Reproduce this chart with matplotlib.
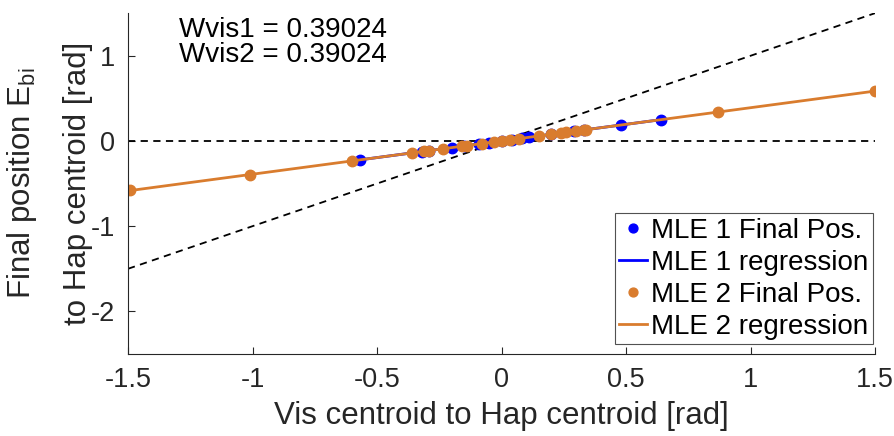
import numpy as np
import matplotlib.pyplot as plt

plt.rcParams['font.family'] = ['Liberation Sans', 'DejaVu Sans']

# slope of both regressions
wvis1 = 0.39024
wvis2 = 0.39024

# MLE 1 final positions
mle1_x = [-0.57, -0.32, -0.29, -0.20, -0.15, -0.09, -0.05, 0.00, 0.04, 0.08, 0.11, 0.20, 0.29, 0.33, 0.48, 0.64]
mle1_y = [-0.222, -0.125, -0.113, -0.078, -0.059, -0.035, -0.020, 0.000, 0.016, 0.031, 0.043, 0.078, 0.113, 0.129, 0.187, 0.250]

# MLE 2 final positions
mle2_x = [-1.49, -1.01, -0.60, -0.36, -0.31, -0.29, -0.235, -0.16, -0.14, -0.08, -0.03, 0.00, 0.035,
          0.07, 0.15, 0.20, 0.24, 0.26, 0.30, 0.33, 0.34, 0.87, 1.50]
mle2_y = [-0.581, -0.394, -0.234, -0.140, -0.121, -0.113, -0.092, -0.062, -0.055, -0.031, -0.012, 0.000, 0.014,
          0.027, 0.059, 0.078, 0.094, 0.101, 0.117, 0.129, 0.133, 0.340, 0.585]

fig = plt.figure(figsize=(8.95, 4.36), dpi=100)
ax = fig.add_axes([0.143, 0.188, 0.835, 0.782])

ax.plot([-1.5, 1.5], [0, 0], 'k--', lw=1.3, dashes=(4, 3))
ax.plot([-1.5, 1.5], [-1.5, 1.5], 'k--', lw=1.3, dashes=(4, 3))

blue = '#0000ff'
orange = '#d97c2e'
ax.plot(mle1_x, mle1_y, 'o', color=blue, ms=7.5, label='MLE 1 Final Pos.')
x1 = np.array([min(mle1_x), max(mle1_x)])
ax.plot(x1, wvis1 * x1, '-', color=blue, lw=2, label='MLE 1 regression')
ax.plot(mle2_x, mle2_y, 'o', color=orange, ms=7.5, label='MLE 2 Final Pos.')
x2 = np.array([-1.5, 1.5])
ax.plot(x2, wvis2 * x2, '-', color=orange, lw=2, label='MLE 2 regression')

ax.set_xlim(-1.5, 1.5)
ax.set_ylim(-2.5, 1.5)
ax.set_xticks([-1.5, -1, -0.5, 0, 0.5, 1, 1.5])
ax.set_xticklabels(['-1.5', '-1', '-0.5', '0', '0.5', '1', '1.5'])
ax.set_yticks([-2, -1, 0, 1])
ax.set_yticklabels(['-2', '-1', '0', '1'])
ax.tick_params(direction='in', labelsize=19.5, colors='#262626', labelcolor='#262626', length=5, pad=9)
for s in ['top', 'right']:
    ax.spines[s].set_visible(False)
for s in ['left', 'bottom']:
    ax.spines[s].set_color('#262626')
    ax.spines[s].set_linewidth(0.8)

ax.set_xlabel('Vis centroid to Hap centroid [rad]', fontsize=22.5, color='#262626', labelpad=6)

# two-line y label, placed line by line
fig.text(0.0246, 0.579, 'Final position E$_{\\mathregular{bi}}$', rotation=90, ha='center', va='center',
         fontsize=22.5, color='#262626')
fig.text(0.087, 0.579, 'to Hap centroid [rad]', rotation=90, ha='center', va='center',
         fontsize=22.5, color='#262626')

ax.text(-0.878, 1.45, 'Wvis1 = %.5f\nWvis2 = %.5f' % (wvis1, wvis2), ha='center', va='top',
        fontsize=20, linespacing=0.95)

leg = ax.legend(loc='lower right', bbox_to_anchor=(0.975, 0.211), bbox_transform=fig.transFigure,
                fontsize=20, frameon=True, fancybox=False, handlelength=1.0, handletextpad=0.15,
                borderpad=0.15, labelspacing=0.22, borderaxespad=0, markerscale=0.85)
leg.get_frame().set_edgecolor('#262626')
leg.get_frame().set_linewidth(0.8)

fig.savefig('out.png', dpi=100)
